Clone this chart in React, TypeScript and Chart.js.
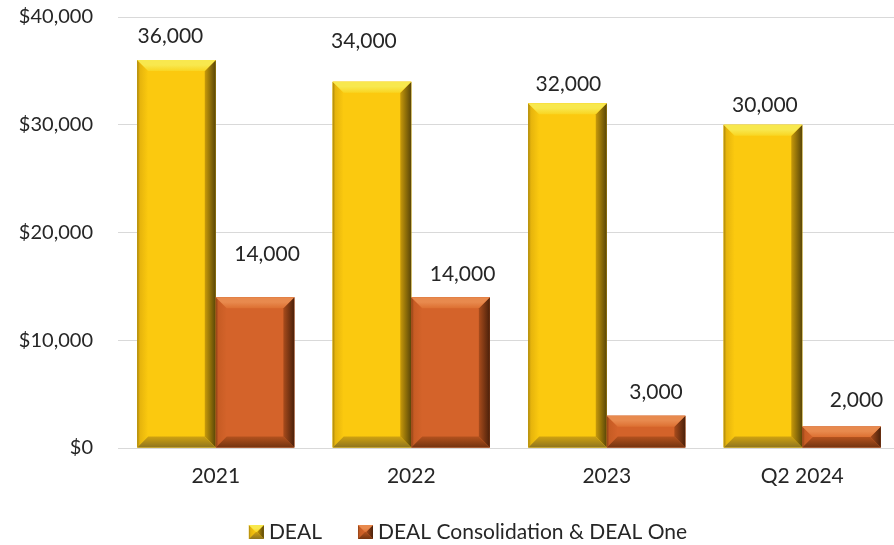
import { useEffect, useRef } from "react";
import { Chart, registerables } from "chart.js";

Chart.register(...registerables);

const categories = ["2021", "2022", "2023", "Q2 2024"];
const seriesNames = ["DEAL", "DEAL Consolidation & DEAL One"];
const dealValues = [36000, 34000, 32000, 30000];
const consolidationValues = [14000, 14000, 3000, 2000];
const yTickValues = [0, 10000, 20000, 30000, 40000];

// Hand-placed value labels: [dx, dy] in px from the top centre of each bar
const dealLabelNudge = [[-6, -24], [-8, -40], [1, -19], [2, -20]];
const consolidationLabelNudge = [[12, -43], [12, -23], [10, -23], [15, -26]];
const labelNudges = [dealLabelNudge, consolidationLabelNudge];

const FONT = "Lato, 'Open Sans', sans-serif";
const TEXT = "#262626";

type Palette = {
  face: string;
  light: string;
  lightMid: string;
  leftEdge: string;
  left: string;
  darkMid: string;
  dark: string;
  bottomMid: string;
  bottom: string;
};

const palettes: Palette[] = [
  {
    face: "#FBC90F",
    light: "#F8E84E",
    lightMid: "#F9D521",
    leftEdge: "#A8850F",
    left: "#E6B40C",
    darkMid: "#C89A0A",
    dark: "#584508",
    bottomMid: "#D0A210",
    bottom: "#8E7420",
  },
  {
    face: "#D4632A",
    light: "#E88A4E",
    lightMid: "#DD7032",
    leftEdge: "#8E4116",
    left: "#C75C24",
    darkMid: "#A94C1C",
    dark: "#4A200A",
    bottomMid: "#B4521E",
    bottom: "#733410",
  },
];

function bevelRect(
  ctx: CanvasRenderingContext2D,
  left: number,
  top: number,
  right: number,
  bottom: number,
  bevel: number,
  p: Palette
) {
  const b = Math.max(0, Math.min(bevel, (bottom - top) / 2, (right - left) / 2));
  ctx.save();
  ctx.fillStyle = p.face;
  ctx.fillRect(left, top, right - left, bottom - top);

  const quad = (pts: number[][], fill: string | CanvasGradient) => {
    ctx.beginPath();
    ctx.moveTo(pts[0][0], pts[0][1]);
    for (let i = 1; i < pts.length; i++) ctx.lineTo(pts[i][0], pts[i][1]);
    ctx.closePath();
    ctx.fillStyle = fill;
    ctx.fill();
  };

  // left face
  const gl = ctx.createLinearGradient(left, 0, left + b, 0);
  gl.addColorStop(0, p.leftEdge);
  gl.addColorStop(0.25, p.left);
  gl.addColorStop(1, p.face);
  quad([[left, top], [left + b, top + b], [left + b, bottom - b], [left, bottom]], gl);

  // right face
  const gr = ctx.createLinearGradient(right - b, 0, right, 0);
  gr.addColorStop(0, p.darkMid);
  gr.addColorStop(1, p.dark);
  quad([[right, top], [right - b, top + b], [right - b, bottom - b], [right, bottom]], gr);

  // top face
  const gt = ctx.createLinearGradient(0, top, 0, top + b);
  gt.addColorStop(0, p.light);
  gt.addColorStop(0.45, p.light);
  gt.addColorStop(1, p.lightMid);
  quad([[left, top], [right, top], [right - b, top + b], [left + b, top + b]], gt);

  // bottom face
  const gb = ctx.createLinearGradient(0, bottom - b, 0, bottom);
  gb.addColorStop(0, p.bottomMid);
  gb.addColorStop(1, p.bottom);
  quad([[left, bottom], [right, bottom], [right - b, bottom - b], [left + b, bottom - b]], gb);

  ctx.restore();
}

const bevelBars = {
  id: "bevelBars",
  afterDatasetsDraw(chart: Chart) {
    const ctx = chart.ctx;
    chart.data.datasets.forEach((_ds, di) => {
      const meta = chart.getDatasetMeta(di);
      const pal = palettes[di];
      meta.data.forEach((el: any) => {
        const { x, y, base, width } = el.getProps(["x", "y", "base", "width"], true);
        bevelRect(ctx, x - width / 2, y, x + width / 2, base, 11, pal);
      });
    });
  },
};

const valueLabels = {
  id: "valueLabels",
  afterDatasetsDraw(chart: Chart) {
    const ctx = chart.ctx;
    ctx.save();
    ctx.font = `21px ${FONT}`;
    ctx.fillStyle = TEXT;
    ctx.textAlign = "center";
    ctx.textBaseline = "middle";
    chart.data.datasets.forEach((ds, di) => {
      const meta = chart.getDatasetMeta(di);
      meta.data.forEach((el: any, i: number) => {
        const { x, y } = el.getProps(["x", "y"], true);
        const v = ds.data[i] as number;
        const [dx, dy] = labelNudges[di][i];
        ctx.fillText(v.toLocaleString("en-US"), x + dx, y + dy);
      });
    });
    ctx.restore();
  },
};

const bevelLegend = {
  id: "bevelLegend",
  afterDraw(chart: Chart) {
    const ctx = chart.ctx;
    const cy = 532;
    const centerX = 468;
    const boxW = 15;
    const boxH = 14;
    const gapBoxText = 5;
    const gapItems = 36;
    ctx.save();
    ctx.font = `21px ${FONT}`;
    const labels = chart.data.datasets.map((d) => String(d.label));
    const widths = labels.map((l) => ctx.measureText(l).width);
    const total =
      widths.reduce((s, w) => s + boxW + gapBoxText + w, 0) + gapItems * (labels.length - 1);
    let x = centerX - total / 2;
    labels.forEach((l, i) => {
      bevelRect(ctx, x, cy - boxH / 2, x + boxW, cy + boxH / 2, 7.5, palettes[i]);
      x += boxW + gapBoxText;
      ctx.fillStyle = TEXT;
      ctx.textAlign = "left";
      ctx.textBaseline = "middle";
      ctx.fillText(l, x, cy);
      x += widths[i] + gapItems;
    });
    ctx.restore();
  },
};

export default function App() {
  const canvasRef = useRef<HTMLCanvasElement | null>(null);

  useEffect(() => {
    const canvas = canvasRef.current;
    if (!canvas) return;
    const chart = new Chart(canvas, {
      type: "bar",
      data: {
        labels: categories,
        datasets: [
          {
            label: seriesNames[0],
            data: dealValues,
            backgroundColor: palettes[0].face,
            borderWidth: 0,
          },
          {
            label: seriesNames[1],
            data: consolidationValues,
            backgroundColor: palettes[1].face,
            borderWidth: 0,
          },
        ],
      },
      options: {
        responsive: false,
        maintainAspectRatio: false,
        animation: false,
        devicePixelRatio: 1,
        datasets: {
          bar: { categoryPercentage: 0.804, barPercentage: 1.0 },
        },
        layout: { padding: { top: 17, left: 0, right: 0, bottom: 50 } },
        plugins: {
          legend: { display: false },
          tooltip: { enabled: false },
        },
        scales: {
          x: {
            grid: { display: false },
            border: { display: false },
            ticks: {
              color: TEXT,
              font: { family: FONT, size: 21 },
              padding: 8,
              maxRotation: 0,
            },
            afterFit: (scale: any) => {
              scale.height = 47;
              scale.paddingLeft = 0;
              scale.paddingRight = 0;
            },
          },
          y: {
            min: 0,
            max: 40000,
            grid: { color: "#D9D9D9", lineWidth: 1, drawTicks: false },
            border: { display: false },
            afterBuildTicks: (scale: any) => {
              scale.ticks = yTickValues.map((v) => ({ value: v }));
            },
            ticks: {
              color: TEXT,
              font: { family: FONT, size: 20 },
              padding: 25,
              callback: (v: any) => "$" + Number(v).toLocaleString("en-US"),
            },
            afterFit: (scale: any) => {
              scale.width = 118;
              scale.paddingTop = 0;
              scale.paddingBottom = 0;
            },
          },
        },
      },
      plugins: [bevelBars, valueLabels, bevelLegend],
    });
    return () => chart.destroy();
  }, []);

  return (
    <div
      style={{
        position: "fixed",
        left: 0,
        top: 0,
        width: 894,
        height: 545,
        overflow: "hidden",
        background: "#ffffff",
      }}
    >
      <canvas ref={canvasRef} width={900} height={545} style={{ display: "block" }} />
    </div>
  );
}
